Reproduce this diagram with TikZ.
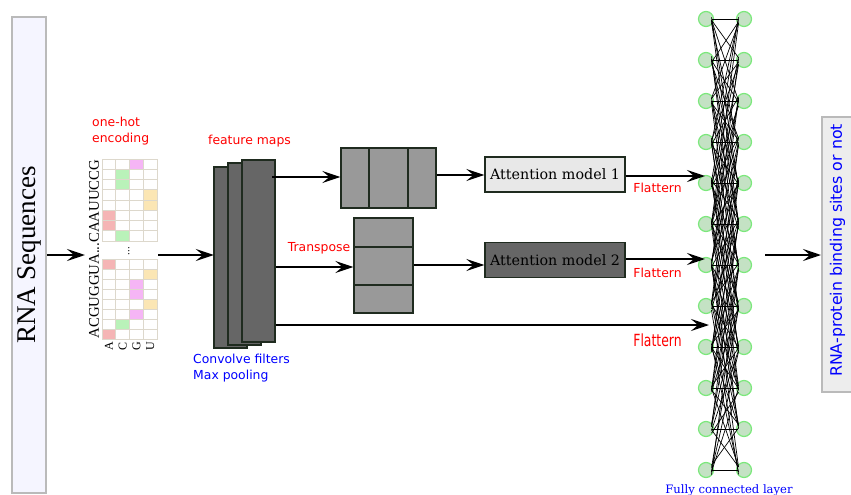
\documentclass[tikz,border=0pt]{standalone}
\usepackage{fontspec}
\setmainfont{Liberation Serif}
\newfontfamily\dvs{DejaVu Sans}
\newfontfamily\dvserif{DejaVu Serif}
\usetikzlibrary{arrows.meta,calc}
\definecolor{cred}{HTML}{F5B5B5}
\definecolor{cgreen}{HTML}{B9F2B9}
\definecolor{cpink}{HTML}{F5B5F5}
\definecolor{cyellow}{HTML}{FBE6B4}
\definecolor{gridc}{HTML}{DDD8CC}
\definecolor{darkb}{HTML}{1F2B1F}
\definecolor{nodefill}{HTML}{C4E2C4}
\definecolor{nodeedge}{HTML}{7BE87B}
\tikzset{
  arr/.style={line width=2.5pt,-{Stealth[length=18pt,width=12pt,inset=7pt]}},
  convbox/.style={draw=darkb,line width=1.3pt,fill=black!60},
  fmbox/.style={draw=darkb,line width=1.3pt,fill=black!40},
  attbox/.style={draw=darkb,line width=1.3pt,minimum width=140pt,minimum height=35pt,font=\dvserif\fontsize{14.3}{16}\selectfont,inner sep=0pt},
  redlbl/.style={text=red,font=\dvs\fontsize{12.4}{16}\selectfont,inner sep=0pt},
  bluelbl/.style={text=blue,font=\dvs\fontsize{12.4}{16}\selectfont,inner sep=0pt},
  nnode/.style={circle,draw=nodeedge,line width=1.2pt,fill=nodefill,minimum size=15pt,inner sep=0pt},
  cell/.style={draw=gridc,line width=0.8pt},
  link/.style={line width=0.7pt},
}
\begin{document}
\begin{tikzpicture}[x=1pt,y=-1pt]
\useasboundingbox (0,0) rectangle (851,495);
% RNA sequences box
\node[draw=black!27,line width=2pt,fill=blue!4,minimum width=34pt,minimum height=476pt,inner sep=0pt] (rna) at (29,255) {};
\node[rotate=90,font=\fontsize{27}{30}\selectfont] (rnat) at (29,255) {RNA Sequences};
% one-hot label
\node[redlbl,align=left,anchor=north west] (oh) at (92,117) {one-hot\\encoding};
% grid
\foreach \r/\c/\col in {0/2/cpink,1/1/cgreen,2/1/cgreen,3/3/cyellow,4/3/cyellow,5/0/cred,6/0/cred,7/1/cgreen}{
  \fill[\col] (102+13.75*\c,159+10.25*\r) rectangle ++(13.75,10.25);
}
\foreach \r/\c/\col in {0/0/cred,1/3/cyellow,2/2/cpink,3/2/cpink,4/3/cyellow,5/2/cpink,6/1/cgreen,7/0/cred}{
  \fill[\col] (102+13.75*\c,259+10*\r) rectangle ++(13.75,10);
}
\foreach \r in {0,...,7}{\foreach \c in {0,...,3}{
  \draw[cell] (102+13.75*\c,159+10.25*\r) rectangle ++(13.75,10.25);
  \draw[cell] (102+13.75*\c,259+10*\r) rectangle ++(13.75,10);
}}
\node[inner sep=0pt] (grid) at (129.5,249) {};
\node[rotate=90,font=\fontsize{11}{12}\selectfont,inner sep=0pt] (dots) at (129,251) {...};
\node[rotate=90,font=\fontsize{14.8}{16}\selectfont,inner sep=0pt] (seq) at (94,249) {ACGUGGUA...CAAUUCCG};
\foreach \c/\l in {0/A,1/C,2/G,3/U}{
  \node[rotate=90,anchor=east,font=\fontsize{12}{13}\selectfont,inner sep=0pt] (col\l) at (108.9+13.75*\c,342) {\l};
}
% conv stack
\draw[convbox] (214,167) rectangle (247,348);
\draw[convbox] (228,163) rectangle (261,345);
\draw[convbox] (242,160) rectangle (275,342);
\node[inner sep=0pt,minimum width=61pt,minimum height=188pt] (conv) at (244.5,254) {};
\node[redlbl] (fm) at (249.5,141) {feature maps};
\node[bluelbl,align=left,anchor=north west] (cf) at (193,354) {Convolve filters\\Max pooling};
% feature map group 1
\node[fmbox,minimum width=95pt,minimum height=60pt,inner sep=0pt] (g1) at (388.5,178) {};
\draw[darkb,line width=1.3pt] (369,148) -- (369,208) (408,148) -- (408,208);
% transposed
\node[fmbox,minimum width=59pt,minimum height=95pt,inner sep=0pt] (tb) at (383.5,265.5) {};
\draw[darkb,line width=1.3pt] (354,247) -- (413,247) (354,285) -- (413,285);
\node[redlbl] (tr) at (319,248) {Transpose};
% attention boxes
\node[attbox,fill=black!9] (a1) at (555,174.5) {Attention model 1};
\node[attbox,fill=black!60] (a2) at (555,260) {Attention model 2};
% flattern labels
\node[redlbl] (f1) at (657.5,188) {Flattern};
\node[redlbl] (f2) at (657.5,273) {Flattern};
\node[redlbl] (f3) at (657.5,340) {\scalebox{1}[1.35]{Flattern}};
% network nodes
\foreach \i in {0,...,11}{
  \node[nnode] (l\i) at (706,19+41*\i) {};
  \node[nnode] (r\i) at (744,19+41*\i) {};
}
\pgfmathsetseed{7}
\foreach \i in {0,...,11}{\foreach \j in {0,...,11}{
  \pgfmathtruncatemacro\d{abs(\i-\j)}
  \ifnum\d<6
    \pgfmathsetmacro\ja{rand*5}
    \pgfmathsetmacro\jb{rand*5}
    \ifnum\d=0
      \draw[link] ($(l\i.center)+(6,0)$) -- ($(r\j.center)+(-6,0)$);
    \else
      \draw[link] ($(l\i.center)+(5.5,\ja)$) -- ($(r\j.center)+(-5.5,\jb)$);
    \fi
  \fi
}}
\node[text=blue,font=\dvserif\fontsize{11.6}{13}\selectfont,anchor=base,inner sep=0pt] (fc) at (729,493) {Fully connected layer};
% output box
\node[draw=black!27,line width=2pt,fill=black!7,minimum width=36pt,minimum height=275pt,inner sep=0pt,anchor=west] (out) at (821,254.5) {};
\node[rotate=90,text=blue,font=\dvs\fontsize{15.8}{17}\selectfont,inner sep=0pt] (outt) at (837.5,250.5) {RNA-protein binding sites or not};
% coordinates
\coordinate (n1) at (705,176);
\coordinate (n2) at (705,259);
\coordinate (n3) at (709,325);
\coordinate (nout) at (765,255);
% arrows
\draw[arr] (rna.east |- 0,255) -- (85,255);
\draw[arr] (158,255) -- (conv.west |- 0,255);
\draw[arr] (272,177) -- (g1.west |- 0,177);
\draw[arr] (276,267) -- (tb.west |- 0,267);
\draw[arr] (276,325) -- (n3);
\draw[arr] (g1.east |- 0,175) -- (a1.west |- 0,175);
\draw[arr] (tb.east |- 0,265) -- (a2.west |- 0,265);
\draw[arr] (a1.east |- n1) -- (n1);
\draw[arr] (a2.east |- n2) -- (n2);
\draw[arr] (nout) -- (out.west |- nout);
\end{tikzpicture}
\end{document}
